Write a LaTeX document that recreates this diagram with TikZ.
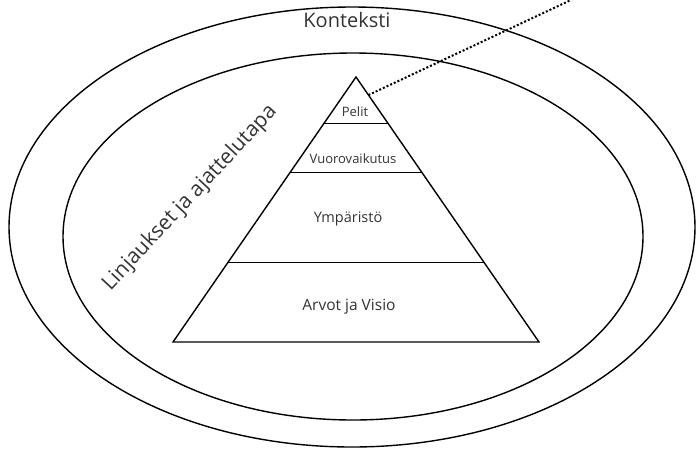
\documentclass[tikz,border=0pt]{standalone}
\usepackage{fontspec}
\setmainfont{Open Sans}
\usetikzlibrary{calc}

\begin{document}
\begin{tikzpicture}[x=1pt,y=-1pt,
  every node/.style={inner sep=2pt,text=black!80},
  ring/.style={line width=1.4pt},
  layer/.style={line width=0.9pt}]
\useasboundingbox (0,0) rectangle (696,448);
\draw[ring] (352,227) ellipse [x radius=343, y radius=220];
\draw[ring] (353,236.5) ellipse [x radius=290, y radius=183.5];
\coordinate (apex) at (356,77);
\coordinate (baseL) at (173,342);
\coordinate (baseR) at (539,342);
\draw[ring] (apex) -- (baseR) -- (baseL) -- cycle;
\draw[layer] ($(apex)!0.177!(baseL)$) -- ($(apex)!0.177!(baseR)$);
\draw[layer] ($(apex)!0.362!(baseL)$) -- ($(apex)!0.362!(baseR)$);
\draw[layer] ($(apex)!0.698!(baseL)$) -- ($(apex)!0.698!(baseR)$);
\node (konteksti) at (347,20) {\fontsize{20}{24}\selectfont Konteksti};
\node[rotate=47] (linjaukset) at (190,198) {\fontsize{21}{25}\selectfont Linjaukset ja ajattelutapa};
\node (pelit) at (355,112) {\fontsize{13}{16}\selectfont Pelit};
\node (vuoro) at (353,159) {\fontsize{13}{16}\selectfont Vuorovaikutus};
\node (ymparisto) at (348,219) {\fontsize{14.5}{17}\selectfont Ympäristö};
\node (arvot) at (349,307) {\fontsize{15.5}{18}\selectfont Arvot ja Visio};
\coordinate (pelitedge) at ($(apex)!0.068!(baseR)$);
\coordinate (outside) at (571,0);
\draw[line width=2pt,dash pattern=on 2pt off 2pt] (pelitedge) -- (outside);
\end{tikzpicture}
\end{document}
